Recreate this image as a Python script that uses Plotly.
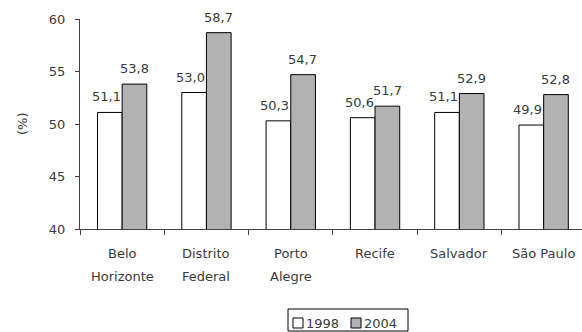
import plotly.graph_objects as go

cities = ["Belo Horizonte", "Distrito Federal", "Porto Alegre",
          "Recife", "Salvador", "São Paulo"]
city_labels = ["Belo<br>Horizonte", "Distrito<br>Federal", "Porto<br>Alegre",
               "Recife", "Salvador", "São Paulo"]
v1998 = [51.1, 53.0, 50.3, 50.6, 51.1, 49.9]
v2004 = [53.8, 58.7, 54.7, 51.7, 52.9, 52.8]
series_names = ["1998", "2004"]
y_ticks = [40, 45, 50, 55, 60]

FONT = "DejaVu Sans"
FS = 13
TXT = "#3a3a3a"
LINE = "#404040"
FILL = ["white", "#b2b2b2"]

# plot area in pixels (used to place the category labels and the legend box)
L, T, R, B = 80, 19, 582, 229
W, H = R - L, B - T
CAT_W = 84.3  # pixel width of one category slot


def px(x):
    return (x - L) / W


def py(y):
    return (B - y) / H


def fmt(v):
    return f"{v:.1f}".replace(".", ",")


fig = go.Figure()
for name, vals, fill in zip(series_names, [v1998, v2004], FILL):
    fig.add_bar(x=cities, y=vals, name=name,
                marker=dict(color=fill, line=dict(color="black", width=1)))

annotations = [dict(text="(%)", xref="paper", yref="paper", x=px(22), y=0.5,
                    textangle=-90, showarrow=False, xanchor="center", yanchor="middle",
                    font=dict(family=FONT, size=FS, color=TXT))]

# value labels above each bar
for vals, dx in zip([v1998, v2004], [-16, 12]):
    for city, v in zip(cities, vals):
        annotations.append(dict(text=fmt(v), x=city, y=v, xref="x", yref="y",
                                showarrow=False, xanchor="center", yanchor="bottom",
                                xshift=dx, yshift=6,
                                font=dict(family=FONT, size=FS, color=TXT)))

# category labels below the axis, one annotation per line
for city, lab in zip(cities, city_labels):
    for i, line in enumerate(lab.split("<br>")):
        annotations.append(dict(text=line, xref="x", yref="paper", x=city,
                                y=py(253 + 23 * i), showarrow=False,
                                xanchor="center", yanchor="middle",
                                font=dict(family=FONT, size=FS, color=TXT)))

# legend box
shapes = [dict(type="rect", xref="paper", yref="paper",
               x0=px(288), x1=px(408), y0=py(331), y1=py(309),
               line=dict(color="black", width=1), fillcolor="white", layer="above")]
for name, fill, sx in zip(series_names, FILL, [293, 351]):
    shapes.append(dict(type="rect", xref="paper", yref="paper",
                       x0=px(sx), x1=px(sx + 10), y0=py(328), y1=py(318),
                       line=dict(color="black", width=1), fillcolor=fill, layer="above"))
    annotations.append(dict(text=name, xref="paper", yref="paper", x=px(sx + 11),
                            y=py(323), showarrow=False, xanchor="left", yanchor="middle",
                            font=dict(family=FONT, size=FS, color=TXT)))

fig.update_layout(
    width=582, height=332,
    margin=dict(l=L, r=582 - R, t=T, b=332 - B),
    paper_bgcolor="white", plot_bgcolor="white",
    barmode="group", bargap=0.415, bargroupgap=0,
    font=dict(family=FONT, size=FS, color=TXT),
    showlegend=False,
    annotations=annotations,
    shapes=shapes,
)
fig.update_xaxes(type="category", range=[-0.5, -0.5 + W / CAT_W], tickson="boundaries",
                 ticks="outside", ticklen=5, tickcolor=LINE, showticklabels=False,
                 showline=True, linecolor=LINE, linewidth=1,
                 showgrid=False, zeroline=False)
fig.update_yaxes(range=[40, 60], tickvals=y_ticks, ticks="outside", ticklen=4,
                 tickcolor=LINE, showline=True, linecolor=LINE, linewidth=1,
                 showgrid=False, zeroline=False, ticklabelstandoff=7,
                 tickfont=dict(family=FONT, size=FS, color=TXT))

fig.write_html("out.html")
